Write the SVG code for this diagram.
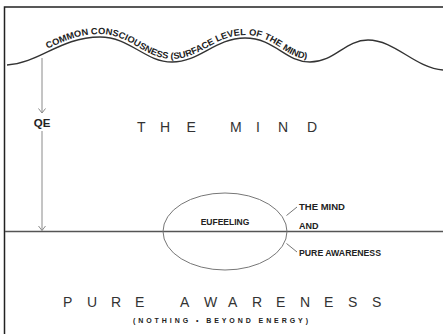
<svg xmlns="http://www.w3.org/2000/svg" xmlns:xlink="http://www.w3.org/1999/xlink" width="443" height="334" viewBox="0 0 443 334">
<style>
.frame{fill:none;stroke:#222;stroke-width:1.5}
.wave{fill:none;stroke:#333;stroke-width:1.4}
.base{fill:none;stroke:#555;stroke-width:1.6}
.arrow{fill:none;stroke:#8a8a8a;stroke-width:1}
.lead{fill:none;stroke:#666;stroke-width:0.9}
.ell{fill:none;stroke:#777;stroke-width:1}
.lab{font-family:"Liberation Sans",Arial,sans-serif;font-weight:bold;fill:#222}
.big{font-family:"Liberation Sans",Arial,sans-serif;font-size:14px;fill:#333}
</style>
<defs>
<marker id="vh" markerUnits="userSpaceOnUse" markerWidth="10" markerHeight="10" refX="0" refY="0" viewBox="-6 -5 8 10" orient="auto">
<path d="M-4.5,-3.5 L0,0 L-4.5,3.5" fill="none" stroke="#8a8a8a" stroke-width="1"/>
</marker>
<path id="wt" d="M7,62 C40,60 60,34 100,34 C130,34 145,59 172,59 C200,59 215,35 245,35 C275,35 285,59 310,59 C335,59 345,37 368,37 C395,37 415,65 443,67"/>
</defs>
<rect width="443" height="334" fill="#fff"/>
<path class="frame" d="M4.5,334 V7 H443"/>

<g id="surface">
<path class="wave" d="M7,65 C40,63 60,37 100,37 C130,37 145,62 172,62 C200,62 215,38 245,38 C275,38 285,62 310,62 C335,62 345,40 368,40 C395,40 415,68 443,70"/>
<text class="lab" font-size="9" font-weight="normal" fill="#111"><textPath xlink:href="#wt" href="#wt" startOffset="43" textLength="277" lengthAdjust="spacingAndGlyphs">COMMON CONSCIOUSNESS (SURFACE LEVEL OF THE MIND)</textPath></text>
</g>

<g id="baseline">
<path class="base" d="M5,231.5 H443"/>
</g>

<g id="qe">
<text class="lab" x="42" y="127" font-size="11.5" text-anchor="middle">QE</text>
</g>

<g id="mind">
<text class="big" y="132" x="137 160 186.5 210 230 256 278 307">THE MIND</text>
</g>

<g id="eufeeling">
<ellipse class="ell" cx="225" cy="231.5" rx="62" ry="38.5"/>
<text class="lab" x="225" y="225" font-size="8.5" text-anchor="middle">EUFEELING</text>
</g>

<g id="labels">
<text class="lab" x="299" y="210" font-size="9" textLength="46" lengthAdjust="spacingAndGlyphs">THE MIND</text>
<text class="lab" x="299" y="229" font-size="9">AND</text>
<text class="lab" x="299" y="256" font-size="9" textLength="82" lengthAdjust="spacingAndGlyphs">PURE AWARENESS</text>
</g>

<g id="pure-awareness">
<text class="big" y="307" x="63 87 111 135 158 180 204 228 252 276 300 324 348 372">PURE AWARENESS</text>
<text class="lab" x="133" y="323" font-size="7" textLength="175" lengthAdjust="spacing">(NOTHING • BEYOND ENERGY)</text>
</g>

<g id="connectors">
<path class="arrow" d="M42,58 V113" marker-end="url(#vh)"/>
<path class="arrow" d="M42,131 V230.5" marker-end="url(#vh)"/>
<path class="lead" d="M286.5,215.5 L297,207"/>
<path class="lead" d="M286.5,243.5 L297,252"/>
</g>
</svg>
